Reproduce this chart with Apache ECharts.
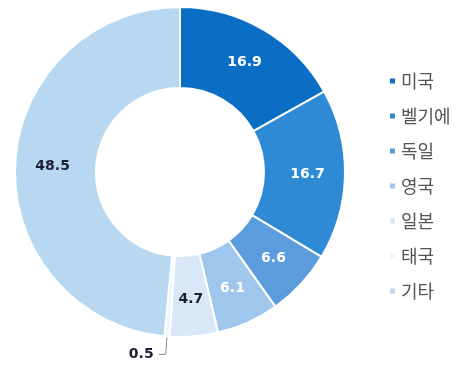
<!DOCTYPE html>
<html>
<head>
<meta charset="utf-8">
<script src="https://cdn.jsdelivr.net/npm/echarts@6/dist/echarts.min.js"></script>
<style>html,body{margin:0;padding:0;background:#fff;}#c{width:462px;height:366px;}</style>
</head>
<body>
<div id="c"></div>
<script>
const categories = ['미국', '벨기에', '독일', '영국', '일본', '태국', '기타'];
const values = [16.9, 16.7, 6.6, 6.1, 4.7, 0.5, 48.5];
const colors = ['#0a6fc4', '#2f8ad6', '#5b9ddc', '#9fc6ec', '#d8e8f8', '#eef4fb', '#b8d8f2'];
const labelColors = ['#fff', '#fff', '#fff', '#fff', '#1a1f33', '#1a1f33', '#1a1f33'];

const data = categories.map((name, i) => {
  const item = {
    name: name,
    value: values[i],
    itemStyle: { color: colors[i] },
    label: { color: labelColors[i] }
  };
  if (name === '태국') {
    item.label = { show: true, position: 'outside', color: labelColors[i] };
    item.labelLine = { show: true, length: 18, length2: 7, lineStyle: { color: '#8a8a8a', width: 1 } };
  }
  return item;
});

const chart = echarts.init(document.getElementById('c'), null, { renderer: 'canvas' });
chart.setOption({
  animation: false,
  legend: {
    orient: 'vertical',
    left: 383,
    top: 66,
    itemWidth: 7,
    itemHeight: 7,
    itemGap: 15,
    icon: 'rect',
    data: categories,
    textStyle: { fontFamily: 'Noto Sans CJK KR', fontSize: 18, color: '#555', lineHeight: 20 }
  },
  series: [{
    type: 'pie',
    center: [180, 172],
    radius: [84, 165],
    startAngle: 90,
    clockwise: true,
    avoidLabelOverlap: false,
    itemStyle: { borderColor: '#fff', borderWidth: 2 },
    label: {
      show: true,
      position: 'inside',
      formatter: p => p.value.toFixed(1),
      fontFamily: 'DejaVu Sans',
      fontWeight: 'bold',
      fontSize: 14
    },
    labelLine: { show: false },
    data: data
  }]
});
</script>
</body>
</html>
